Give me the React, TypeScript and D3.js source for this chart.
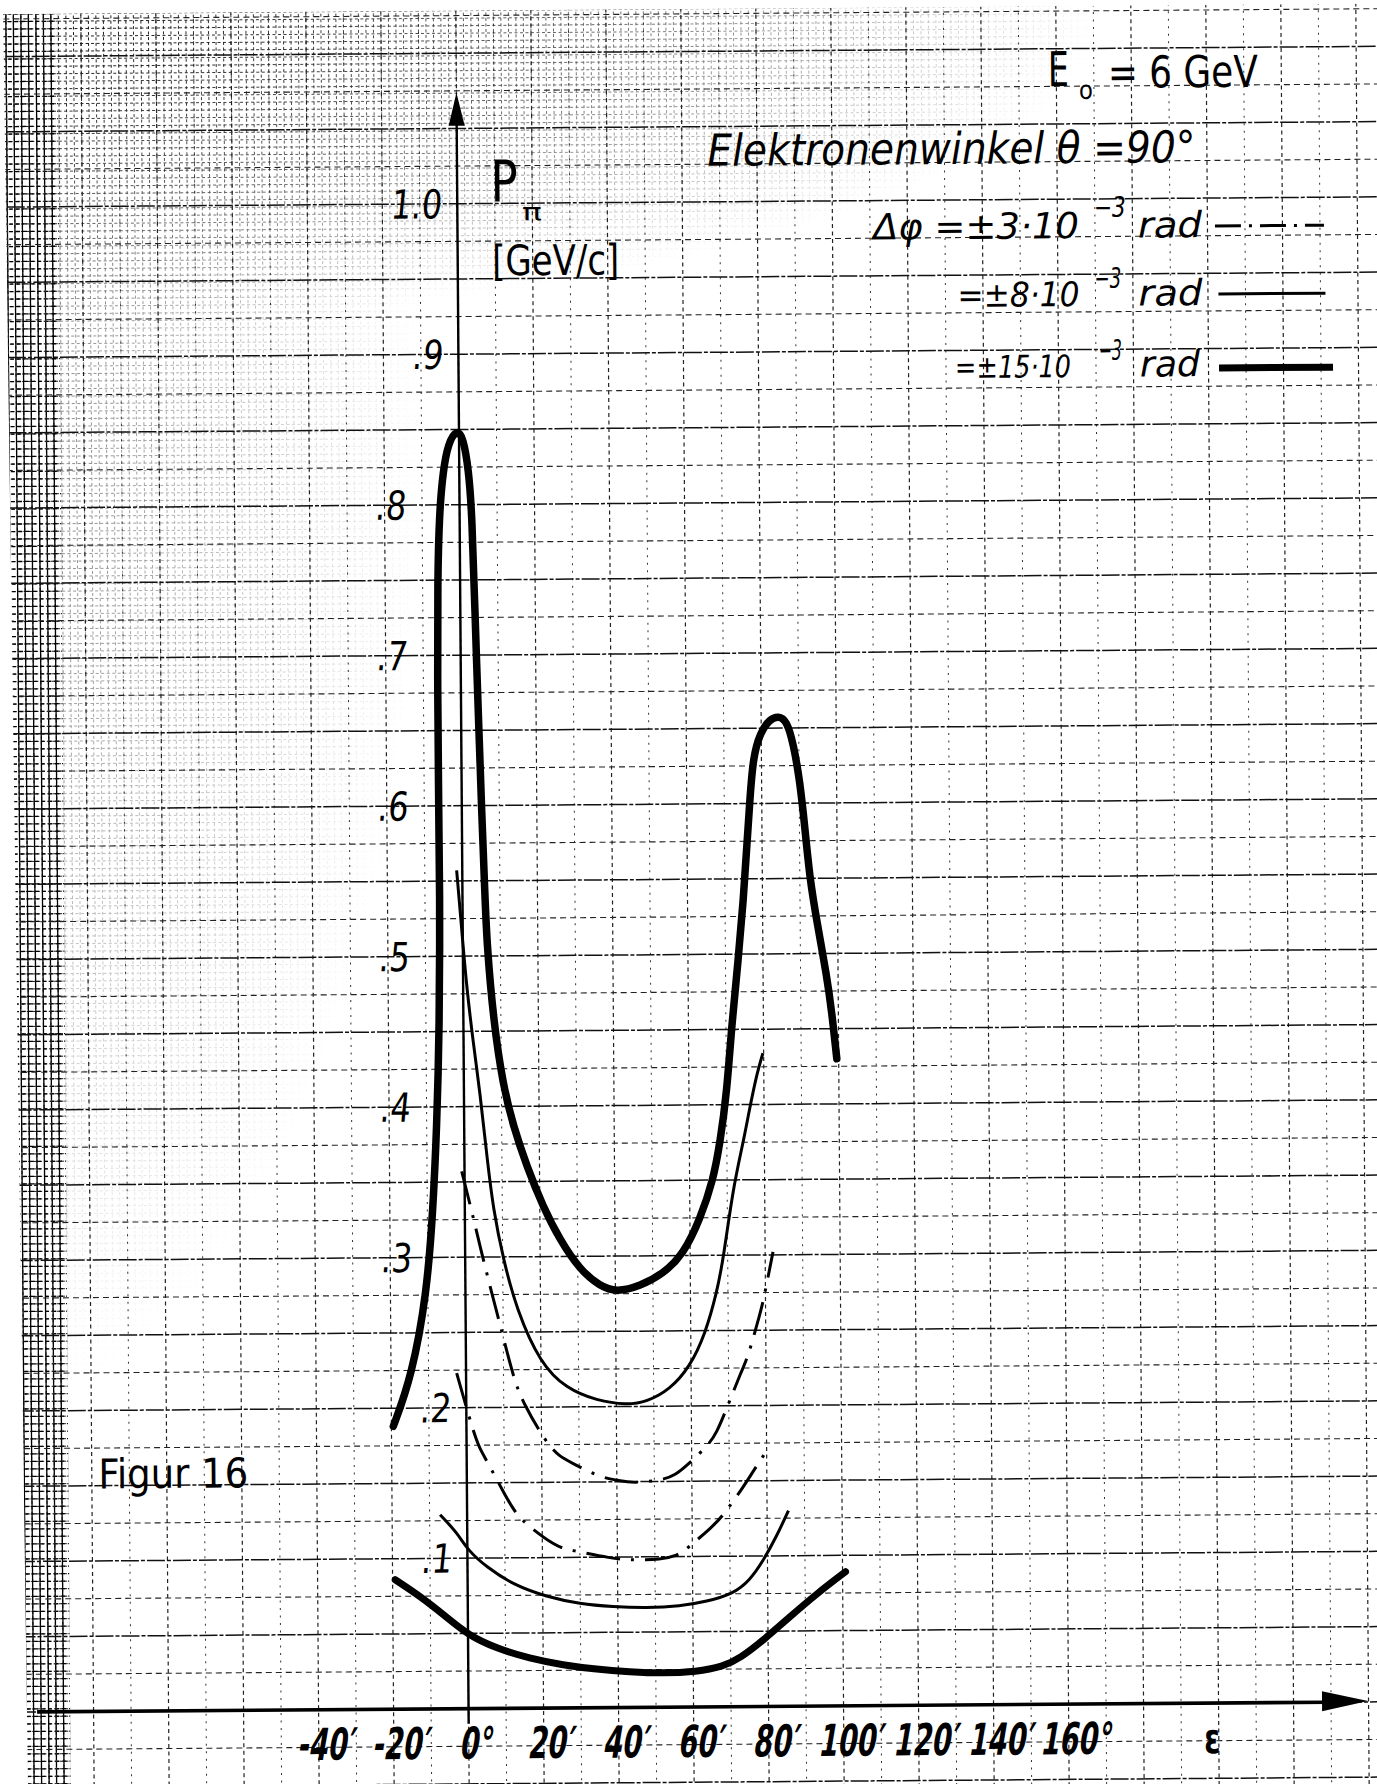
import React from "react";
import * as d3 from "d3";

const W = 1377;
const H = 1784;

// ε in arc-minutes, P in GeV/c
const xTicks = [-40, -20, 0, 20, 40, 60, 80, 100, 120, 140, 160];
const xTickLabels = ["-40′", "-20′", "0°", "20′", "40′", "60′", "80′", "100′", "120′", "140′", "160°"];
const yTicks = [0.1, 0.2, 0.3, 0.4, 0.5, 0.6, 0.7, 0.8, 0.9, 1.0];
const yTickLabels = [".1", ".2", ".3", ".4", ".5", ".6", ".7", ".8", ".9", "1.0"];

// Δφ = ±15·10⁻³ rad, upper branch (double peak)
const thickUpper = [
  [-19.5, 0.188], [-14.5, 0.221], [-10.3, 0.276], [-8.5, 0.331], [-7.3, 0.387],
  [-6.4, 0.453], [-6.0, 0.542], [-6.2, 0.617], [-6.2, 0.683], [-6.0, 0.75],
  [-5.4, 0.795], [-4.3, 0.823], [-2.9, 0.841], [-0.6, 0.85], [1.1, 0.845],
  [2.5, 0.823], [3.3, 0.794], [3.9, 0.728], [4.6, 0.661], [5.3, 0.595],
  [6.0, 0.54], [6.4, 0.509], [8.0, 0.457], [10.5, 0.413], [13.1, 0.387],
  [16.6, 0.36], [20.9, 0.333], [25.3, 0.311], [30.6, 0.291], [35.9, 0.28],
  [40.3, 0.276], [46.6, 0.28], [52.8, 0.288], [58.2, 0.301], [62.7, 0.324],
  [66.3, 0.35], [68.2, 0.375], [70.1, 0.408], [71.5, 0.452], [73.4, 0.496],
  [74.9, 0.536], [75.9, 0.571], [76.9, 0.605], [77.8, 0.631], [79.7, 0.647],
  [82.3, 0.656], [84.6, 0.658], [86.8, 0.655], [88.5, 0.64], [90.2, 0.615],
  [91.5, 0.582], [92.7, 0.549], [94.4, 0.522], [97.0, 0.485], [98.2, 0.462],
  [99.5, 0.43],
];

// Δφ = ±8·10⁻³ rad, upper
const thinUpper = [
  [-1.5, 0.557], [-0.3, 0.519], [0.9, 0.48], [2.6, 0.442], [4.3, 0.409],
  [5.9, 0.369], [7.6, 0.331], [10.2, 0.298], [13.6, 0.265], [19.8, 0.229],
  [26.8, 0.212], [34.8, 0.204], [42.8, 0.201], [48.1, 0.203], [54.3, 0.211],
  [59.7, 0.226], [63.9, 0.248], [67.0, 0.275], [68.8, 0.297], [71.6, 0.345],
  [74.3, 0.374], [76.2, 0.398], [78.2, 0.421], [79.8, 0.434],
];

// Δφ = ±3·10⁻³ rad, upper
const dashUpper = [
  [-0.75, 0.357], [1.8, 0.331], [4.0, 0.307], [7.0, 0.276], [9.6, 0.251],
  [12.6, 0.22], [15.1, 0.203], [21.3, 0.176], [24.8, 0.167], [27.9, 0.163],
  [35.5, 0.153], [40.3, 0.151], [44.3, 0.149], [52.3, 0.151], [55.5, 0.154],
  [59.0, 0.161], [64.9, 0.175], [66.8, 0.183], [68.6, 0.193], [73.6, 0.224],
  [75.2, 0.232], [78.5, 0.261], [79.3, 0.268], [82.1, 0.302],
];

// Δφ = ±3·10⁻³ rad, lower
const dashLower = [
  [-2.5, 0.223], [1.8, 0.184], [3.6, 0.172], [5.3, 0.165], [10.5, 0.14],
  [12.7, 0.131], [14.8, 0.124], [23.7, 0.107], [27.3, 0.105], [38.7, 0.099],
  [43.2, 0.098], [51.8, 0.098], [56.1, 0.101], [58.0, 0.104], [65.5, 0.12],
  [67.9, 0.126], [73.8, 0.146], [77.3, 0.16], [80.9, 0.173],
];

// Δφ = ±8·10⁻³ rad, lower
const thinLower = [
  [-7.2, 0.129], [-2.7, 0.117], [0.2, 0.105], [5.1, 0.094], [12.2, 0.082],
  [21.0, 0.074], [29.9, 0.069], [38.7, 0.067], [47.7, 0.066], [56.6, 0.067],
  [63.7, 0.07], [70.8, 0.075], [75.3, 0.084], [78.9, 0.097], [82.5, 0.113],
  [85.7, 0.13],
];

// Δφ = ±15·10⁻³ rad, lower
const thickLower = [
  [-19.3, 0.086], [-12.7, 0.075], [-5.7, 0.061], [0.0, 0.049], [7.5, 0.04],
  [16.4, 0.033], [25.3, 0.0285], [34.2, 0.0255], [43.0, 0.0237], [51.9, 0.0225],
  [60.8, 0.0234], [67.9, 0.0266], [72.5, 0.0321], [78.8, 0.0441], [85.9, 0.0595],
  [93.2, 0.0749], [100.8, 0.0891],
];

const FONT = "'DejaVu Sans', sans-serif";
const DASHDOT = "34 11 3 11";
const FIT = "spacingAndGlyphs";

export default function App() {
  // 20' = one cm square on the paper
  const x = d3.scaleLinear().domain([0, 20]).range([462.5, 537.5]);
  const y = d3.scaleLinear().domain([0, 1]).range([1707, 202]);

  const line = d3
    .line()
    .x((d) => x(d[0]))
    .y((d) => y(d[1]))
    .curve(d3.curveBasis);

  // graph paper: 1 cm, 5 mm and 1 mm rulings
  const hCm = d3.range(-2, 23).map((k) => k * 0.05);
  const hHalf = hCm.map((v) => v + 0.025);
  const vCm = d3.range(-24, 49).map((k) => k * 20);
  const vHalf = vCm.map((v) => v + 10);
  const fineX = d3.range(-2, 200).map((k) => x(-130) + k * 7.5);
  const fineY = d3.range(0, 245).map((k) => 9 + k * 7.5);
  const stripX = fineX.filter((px) => px > 6 && px < 66);

  const nearAxis = (v) => v >= 0.85 || v <= 0.25;

  return (
    <svg
      width={W}
      height={H}
      style={{ position: "absolute", left: 0, top: 0, background: "#fff" }}
      fontFamily={FONT}
    >
      <defs>
        <clipPath id="paper">
          <rect x={-40} y={9} width={1480} height={1820} />
        </clipPath>
        <clipPath id="strip">
          <rect x={8} y={9} width={56} height={1820} />
        </clipPath>
        <radialGradient
          id="fadeTop"
          gradientUnits="userSpaceOnUse"
          cx="0"
          cy="0"
          r="1"
          gradientTransform="translate(60 20) scale(1050 300)"
        >
          <stop offset="0" stopColor="#fff" stopOpacity="1" />
          <stop offset="0.5" stopColor="#fff" stopOpacity="0.65" />
          <stop offset="1" stopColor="#fff" stopOpacity="0" />
        </radialGradient>
        <radialGradient
          id="fadeLeft"
          gradientUnits="userSpaceOnUse"
          cx="0"
          cy="0"
          r="1"
          gradientTransform="translate(0 450) scale(430 950)"
        >
          <stop offset="0" stopColor="#fff" stopOpacity="0.6" />
          <stop offset="1" stopColor="#fff" stopOpacity="0" />
        </radialGradient>
        <mask id="dense" maskUnits="userSpaceOnUse" x={-50} y={-50} width={1500} height={1900}>
          <rect x={-50} y={-50} width={1500} height={1900} fill="url(#fadeTop)" />
          <rect x={-50} y={-50} width={1500} height={1900} fill="url(#fadeLeft)" />
          <rect x={8} y={0} width={56} height={1820} fill="#fff" />
        </mask>
      </defs>

      <g transform="rotate(-0.43 688 900)">
        <g clipPath="url(#paper)">
          <g mask="url(#dense)" stroke="#000" strokeWidth={0.9} strokeDasharray="3 2.5">
            {fineX.map((px, i) => (
              <line key={"fx" + i} x1={px} x2={px} y1={0} y2={1820} />
            ))}
            {fineY.map((py, i) => (
              <line key={"fy" + i} x1={-40} x2={1440} y1={py} y2={py} />
            ))}
          </g>
          <g clipPath="url(#strip)" stroke="#000" strokeWidth={1.3}>
            {stripX.map((px, i) => (
              <line key={"sx" + i} x1={px} x2={px} y1={0} y2={1820} />
            ))}
            {fineY.map((py, i) => (
              <line key={"sy" + i} x1={0} x2={70} y1={py} y2={py} strokeDasharray="4 3" />
            ))}
          </g>
          <g stroke="#333" strokeWidth={1} strokeDasharray="2 5.5">
            {vHalf.map((v, i) => (
              <line key={"vh" + i} x1={x(v)} x2={x(v)} y1={0} y2={1820} />
            ))}
          </g>
          <g stroke="#222" strokeWidth={1.2} strokeDasharray="4 3.5">
            {vCm.map((v, i) => (
              <line key={"vc" + i} x1={x(v)} x2={x(v)} y1={0} y2={1820} />
            ))}
          </g>
          <g stroke="#222" strokeWidth={1.1} strokeDasharray="6 4">
            {hHalf.map((v, i) => (
              <line key={"hh" + i} x1={-40} x2={1440} y1={y(v)} y2={y(v)} />
            ))}
          </g>
          <g stroke="#111" strokeWidth={1.5} strokeDasharray="18 2 4 2">
            {hCm.map((v, i) => (
              <line key={"hc" + i} x1={-40} x2={1440} y1={y(v)} y2={y(v)} />
            ))}
          </g>
        </g>

        {/* axes */}
        <line x1={x(0)} x2={x(0)} y1={1722} y2={118} stroke="#000" strokeWidth={2.4} />
        <path
          d={`M${x(0)},${y(1) - 111}L${x(0) - 8},${y(1) - 78}L${x(0) + 8},${y(1) - 78}Z`}
          fill="#000"
        />
        <line x1={31} x2={1322} y1={y(0)} y2={y(0)} stroke="#000" strokeWidth={3.6} />
        <path
          d={`M1362,${y(0) - 1}L1316,${y(0) - 11}L1316,${y(0) + 9}Z`}
          fill="#000"
        />

        {/* y tick labels */}
        {yTicks.map((v, i) => (
          <text
            key={"yl" + i}
            transform={`translate(${x(0) - (nearAxis(v) ? 15 : 53)},${y(v)}) skewX(-6) scale(0.8,1)`}
            textAnchor="end"
            dy="0.36em"
            fontSize={40}
            fill="#000"
          >
            {yTickLabels[i]}
          </text>
        ))}

        {/* x tick labels */}
        {xTicks.map((v, i) => (
          <text
            key={"xl" + i}
            transform={`translate(${x(v) + 6},1757) skewX(-10) scale(0.62,1)`}
            textAnchor="middle"
            fontSize={44}
            fontWeight="bold"
            fill="#000"
          >
            {xTickLabels[i]}
          </text>
        ))}
        <text transform="translate(1206,1757) scale(0.7,1)" textAnchor="middle" fontSize={42} fontWeight="bold">
          ε
        </text>

        {/* y axis title */}
        <text transform="translate(496,200) scale(0.9,1.15)" fontSize={50}>
          P
        </text>
        <text x={527} y={219} fontSize={24} textLength={20} lengthAdjust={FIT}>
          π
        </text>
        <text x={497} y={274} fontSize={42} textLength={127} lengthAdjust={FIT}>
          [GeV/c]
        </text>

        {/* legend */}
        <text x={1054} y={89} fontSize={48} textLength={21} lengthAdjust={FIT}>
          E
        </text>
        <text x={1085} y={102} fontSize={26} textLength={14} lengthAdjust={FIT}>
          o
        </text>
        <text x={1114} y={91} fontSize={44} textLength={150} lengthAdjust={FIT}>
          = 6 GeV
        </text>
        <text x={713} y={166} fontSize={44} fontStyle="italic" textLength={488} lengthAdjust={FIT}>
          Elektronenwinkel θ =90°
        </text>

        <g fontStyle="italic">
          <text x={878} y={241} fontSize={36} textLength={206} lengthAdjust={FIT}>
            Δφ =±3·10
          </text>
          <text x={1099} y={220} fontSize={28} textLength={32} lengthAdjust={FIT}>
            −3
          </text>
          <text x={1143} y={241} fontSize={36} textLength={64} lengthAdjust={FIT}>
            rad
          </text>

          <text x={962} y={309} fontSize={34} textLength={122} lengthAdjust={FIT}>
            =±8·10
          </text>
          <text x={1099} y={291} fontSize={28} textLength={27} lengthAdjust={FIT}>
            −3
          </text>
          <text x={1143} y={309} fontSize={36} textLength={64} lengthAdjust={FIT}>
            rad
          </text>

          <text x={959} y={380} fontSize={31} textLength={116} lengthAdjust={FIT}>
            =±15·10
          </text>
          <text x={1103} y={363} fontSize={28} textLength={23} lengthAdjust={FIT}>
            −3
          </text>
          <text x={1144} y={380} fontSize={36} textLength={60} lengthAdjust={FIT}>
            rad
          </text>
        </g>
        <line x1={1220} x2={1329} y1={230} y2={230} stroke="#000" strokeWidth={3} strokeDasharray="26 8 3 8" />
        <line x1={1223} x2={1330} y1={298} y2={298} stroke="#000" strokeWidth={3} />
        <line x1={1223} x2={1337} y1={372} y2={372} stroke="#000" strokeWidth={7} />

        <text x={94} y={1484} fontSize={41} textLength={150} lengthAdjust={FIT}>
          Figur 16
        </text>

        {/* curves */}
        <g fill="none" stroke="#000" strokeLinejoin="round">
          <path d={line(thickUpper)} strokeWidth={7.5} strokeLinecap="round" />
          <path d={line(thickLower)} strokeWidth={7} strokeLinecap="round" />
          <path d={line(thinUpper)} strokeWidth={3} />
          <path d={line(thinLower)} strokeWidth={3} />
          <path d={line(dashUpper)} strokeWidth={3} strokeDasharray={DASHDOT} />
          <path d={line(dashLower)} strokeWidth={3} strokeDasharray={DASHDOT} />
        </g>
      </g>

      {/* uneven left edge of the scanned sheet */}
      <path d="M0,0L3,0L28,1784L0,1784Z" fill="#fff" />
    </svg>
  );
}
